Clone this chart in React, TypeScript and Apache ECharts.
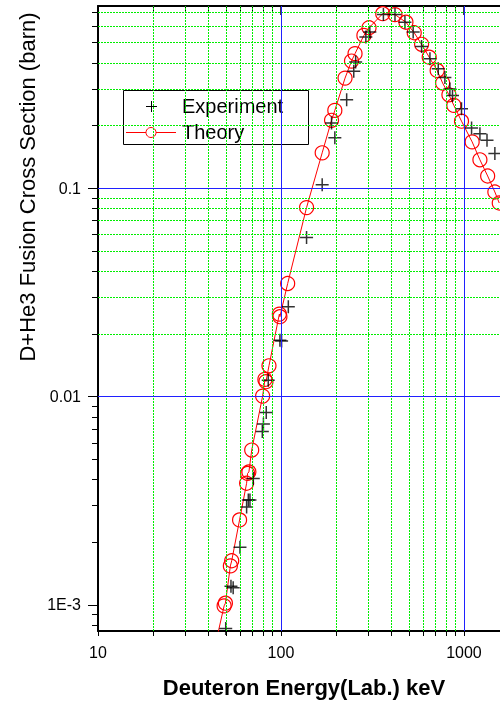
import React, { useEffect, useRef } from "react";
import * as echarts from "echarts";

const X_MIN = 10;
const X_MAX = 2000;
const Y_MIN = 7.5e-4;
const Y_MAX = 0.75;

const xMajor = [10, 100, 1000];
const xMinor = [20, 30, 40, 50, 60, 70, 80, 90, 200, 300, 400, 500, 600, 700, 800, 900, 2000];
const xTickLabels = ["10", "100", "1000"];
const yMajor = [1e-3, 0.01, 0.1];
const yMinor = [8e-4, 9e-4, 2e-3, 3e-3, 4e-3, 5e-3, 6e-3, 7e-3, 8e-3, 9e-3, 0.02, 0.03, 0.04, 0.05, 0.06, 0.07, 0.08, 0.09, 0.2, 0.3, 0.4, 0.5, 0.6, 0.7];
const yTickLabels = ["1E-3", "0.01", "0.1"];

const theoryEnergy = [45.3, 48.9, 49.7, 52.9, 53.8, 59.4, 64.9, 65.7, 66.8, 69.2, 79.4, 81.7, 82.8, 86.0, 98.0, 98.7, 108.8, 138, 168, 189, 197, 224, 243, 254, 284, 303, 360, 420, 482, 535, 587, 646, 714, 765, 828, 881, 970, 1109, 1223, 1348, 1476, 1560];
const theorySigma = [7.35e-4, 9.9e-4, 1.02e-3, 1.54e-3, 1.63e-3, 2.56e-3, 3.84e-3, 4.28e-3, 4.35e-3, 5.54e-3, 0.01006, 0.0121, 0.0118, 0.01406, 0.0249, 0.0242, 0.0349, 0.0808, 0.148, 0.212, 0.2366, 0.338, 0.408, 0.443, 0.542, 0.59, 0.689, 0.682, 0.627, 0.558, 0.491, 0.426, 0.368, 0.32, 0.281, 0.25, 0.21, 0.167, 0.137, 0.1146, 0.096, 0.085];

const expEnergy = [49.9, 53.3, 54.8, 59.7, 64.9, 66.3, 67.7, 70.6, 79.1, 80.2, 83.1, 85.2, 98.7, 100.8, 109.7, 138, 168, 189, 197, 228.6, 250, 256, 291, 306, 363, 420, 476, 528, 587, 652, 724, 787, 838, 866, 970, 1101, 1223, 1337, 1476];
const expSigma = [7.7e-4, 1.23e-3, 1.21e-3, 1.89e-3, 2.95e-3, 3.19e-3, 3.19e-3, 4.05e-3, 6.8e-3, 7.4e-3, 8.4e-3, 0.012, 0.01866, 0.0185, 0.027, 0.058, 0.104, 0.206, 0.175, 0.266, 0.365, 0.404, 0.532, 0.562, 0.682, 0.682, 0.627, 0.562, 0.48, 0.419, 0.375, 0.34, 0.3, 0.279, 0.241, 0.195, 0.183, 0.17, 0.147];

const FONT = "'Liberation Sans', Arial, Helvetica, sans-serif";

export default function App() {
  const ref = useRef<HTMLDivElement>(null);

  useEffect(() => {
    document.body.style.margin = "0";
    document.body.style.overflow = "hidden";
    if (!ref.current) return;
    const chart = echarts.init(ref.current, undefined, { renderer: "svg" });

    const gridRect = { left: 98, right: 1, top: 6, bottom: 71 };
    const labelFor = (v: number, vals: number[], labels: string[]) => {
      for (let i = 0; i < vals.length; i++) {
        if (Math.abs(v - vals[i]) / vals[i] < 1e-6) return labels[i];
      }
      return "";
    };

    const green = { color: "#00ee00", width: 1, type: [2, 1] as any };
    const blue = { color: "#2020ff", width: 1, type: "solid" as any };
    const markData: any[] = [];
    xMinor.forEach((v) => markData.push({ xAxis: v, lineStyle: green }));
    yMinor.forEach((v) => markData.push({ yAxis: v, lineStyle: green }));
    xMajor.slice(1).forEach((v) => markData.push({ xAxis: v, lineStyle: blue }));
    yMajor.forEach((v) => markData.push({ yAxis: v, lineStyle: blue }));

    const logAxisBase = (min: number, max: number) => ({
      type: "log" as const,
      logBase: 10,
      min,
      max,
      splitLine: { show: false },
      minorTick: { show: false },
      minorSplitLine: { show: false },
    });

    const option: any = {
      animation: false,
      grid: [
        { ...gridRect, show: false },
        { ...gridRect, show: false },
      ],
      xAxis: [
        {
          ...logAxisBase(X_MIN, X_MAX),
          gridIndex: 0,
          position: "bottom",
          axisLine: { show: true, lineStyle: { color: "#000", width: 2 } },
          axisTick: {
            show: true,
            inside: false,
            length: 5,
            lineStyle: { color: "#000", width: 1 },
            customValues: [...xMajor, ...xMinor].sort((a, b) => a - b),
          },
          axisLabel: {
            show: true,
            customValues: xMajor,
            margin: 13,
            color: "#000",
            fontSize: 16,
            fontFamily: FONT,
            formatter: (v: number) => labelFor(v, xMajor, xTickLabels),
          },
        },
        {
          ...logAxisBase(X_MIN, X_MAX),
          gridIndex: 0,
          position: "top",
          axisLine: { show: true, lineStyle: { color: "#000", width: 2 } },
          axisTick: {
            show: true,
            inside: true,
            length: 9,
            lineStyle: { color: "#000", width: 1.5 },
            customValues: xMajor,
          },
          axisLabel: { show: false },
        },
        {
          ...logAxisBase(X_MIN, X_MAX),
          gridIndex: 1,
          position: "top",
          axisLine: { show: false },
          axisTick: {
            show: true,
            inside: true,
            length: 5,
            lineStyle: { color: "#000", width: 1 },
            customValues: xMinor,
          },
          axisLabel: { show: false },
        },
      ],
      yAxis: [
        {
          ...logAxisBase(Y_MIN, Y_MAX),
          gridIndex: 0,
          position: "left",
          axisLine: { show: true, lineStyle: { color: "#000", width: 2 } },
          axisTick: {
            show: true,
            inside: false,
            length: 10,
            lineStyle: { color: "#000", width: 1 },
            customValues: yMajor,
          },
          axisLabel: {
            show: true,
            customValues: yMajor,
            margin: 17,
            color: "#000",
            fontSize: 16,
            fontFamily: FONT,
            formatter: (v: number) => labelFor(v, yMajor, yTickLabels),
          },
        },
        {
          ...logAxisBase(Y_MIN, Y_MAX),
          gridIndex: 1,
          position: "left",
          axisLine: { show: false },
          axisTick: {
            show: true,
            inside: false,
            length: 6,
            lineStyle: { color: "#000", width: 1 },
            customValues: yMinor,
          },
          axisLabel: { show: false },
        },
      ],
      series: [
        {
          name: "grid",
          type: "line",
          xAxisIndex: 0,
          yAxisIndex: 0,
          data: [[100, 0.01]],
          showSymbol: false,
          symbolSize: 0,
          lineStyle: { opacity: 0 },
          silent: true,
          z: 1,
          markLine: {
            silent: true,
            symbol: ["none", "none"],
            label: { show: false },
            animation: false,
            data: markData,
          },
        },
        {
          name: "Theory",
          type: "line",
          xAxisIndex: 0,
          yAxisIndex: 0,
          data: theoryEnergy.map((e, i) => [e, theorySigma[i]]),
          symbol: "circle",
          symbolSize: 14,
          showAllSymbol: true,
          lineStyle: { color: "#ff0000", width: 1 },
          itemStyle: { color: "rgba(255,255,255,0)", borderColor: "#ff0000", borderWidth: 1.2 },
          z: 3,
        },
        {
          name: "Experiment",
          type: "scatter",
          xAxisIndex: 0,
          yAxisIndex: 0,
          data: expEnergy.map((e, i) => [e, expSigma[i]]),
          symbol: "path://M5,0L5,10M0,5L10,5",
          symbolSize: 13,
          itemStyle: { color: "none", borderColor: "#000", borderWidth: 1.5 },
          z: 4,
        },
      ],
      graphic: [
        {
          type: "text",
          x: 27,
          y: 187,
          rotation: Math.PI / 2,
          style: {
            text: "D+He3 Fusion Cross Section (barn)",
            font: `22px ${FONT}`,
            fill: "#000",
            textAlign: "center",
            textVerticalAlign: "middle",
          },
        },
        {
          type: "text",
          x: 304,
          y: 687,
          style: {
            text: "Deuteron Energy(Lab.) keV",
            font: `bold 22px ${FONT}`,
            fill: "#000",
            textAlign: "center",
            textVerticalAlign: "middle",
          },
        },
        {
          type: "group",
          z: 100,
          children: [
            {
              type: "rect",
              shape: { x: 123.5, y: 90.5, width: 185, height: 54 },
              style: { fill: "#fff", stroke: "#000", lineWidth: 1 },
            },
            {
              type: "line",
              shape: { x1: 146, y1: 106.5, x2: 157, y2: 106.5 },
              style: { stroke: "#000", lineWidth: 1 },
            },
            {
              type: "line",
              shape: { x1: 151.5, y1: 101, x2: 151.5, y2: 112 },
              style: { stroke: "#000", lineWidth: 1 },
            },
            {
              type: "line",
              shape: { x1: 126, y1: 132.5, x2: 146, y2: 132.5 },
              style: { stroke: "#ff0000", lineWidth: 1 },
            },
            {
              type: "line",
              shape: { x1: 156, y1: 132.5, x2: 176, y2: 132.5 },
              style: { stroke: "#ff0000", lineWidth: 1 },
            },
            {
              type: "circle",
              shape: { cx: 151, cy: 132.5, r: 5 },
              style: { fill: "none", stroke: "#ff0000", lineWidth: 1 },
            },
            {
              type: "text",
              x: 182,
              y: 106,
              style: {
                text: "Experiment",
                font: `20px ${FONT}`,
                fill: "#000",
                textVerticalAlign: "middle",
              },
            },
            {
              type: "text",
              x: 182,
              y: 132,
              style: {
                text: "Theory",
                font: `20px ${FONT}`,
                fill: "#000",
                textVerticalAlign: "middle",
              },
            },
          ],
        },
      ],
    };

    chart.setOption(option);
    return () => {
      chart.dispose();
    };
  }, []);

  return (
    <div
      ref={ref}
      style={{ position: "fixed", left: 0, top: 0, width: 520, height: 702 }}
    />
  );
}
